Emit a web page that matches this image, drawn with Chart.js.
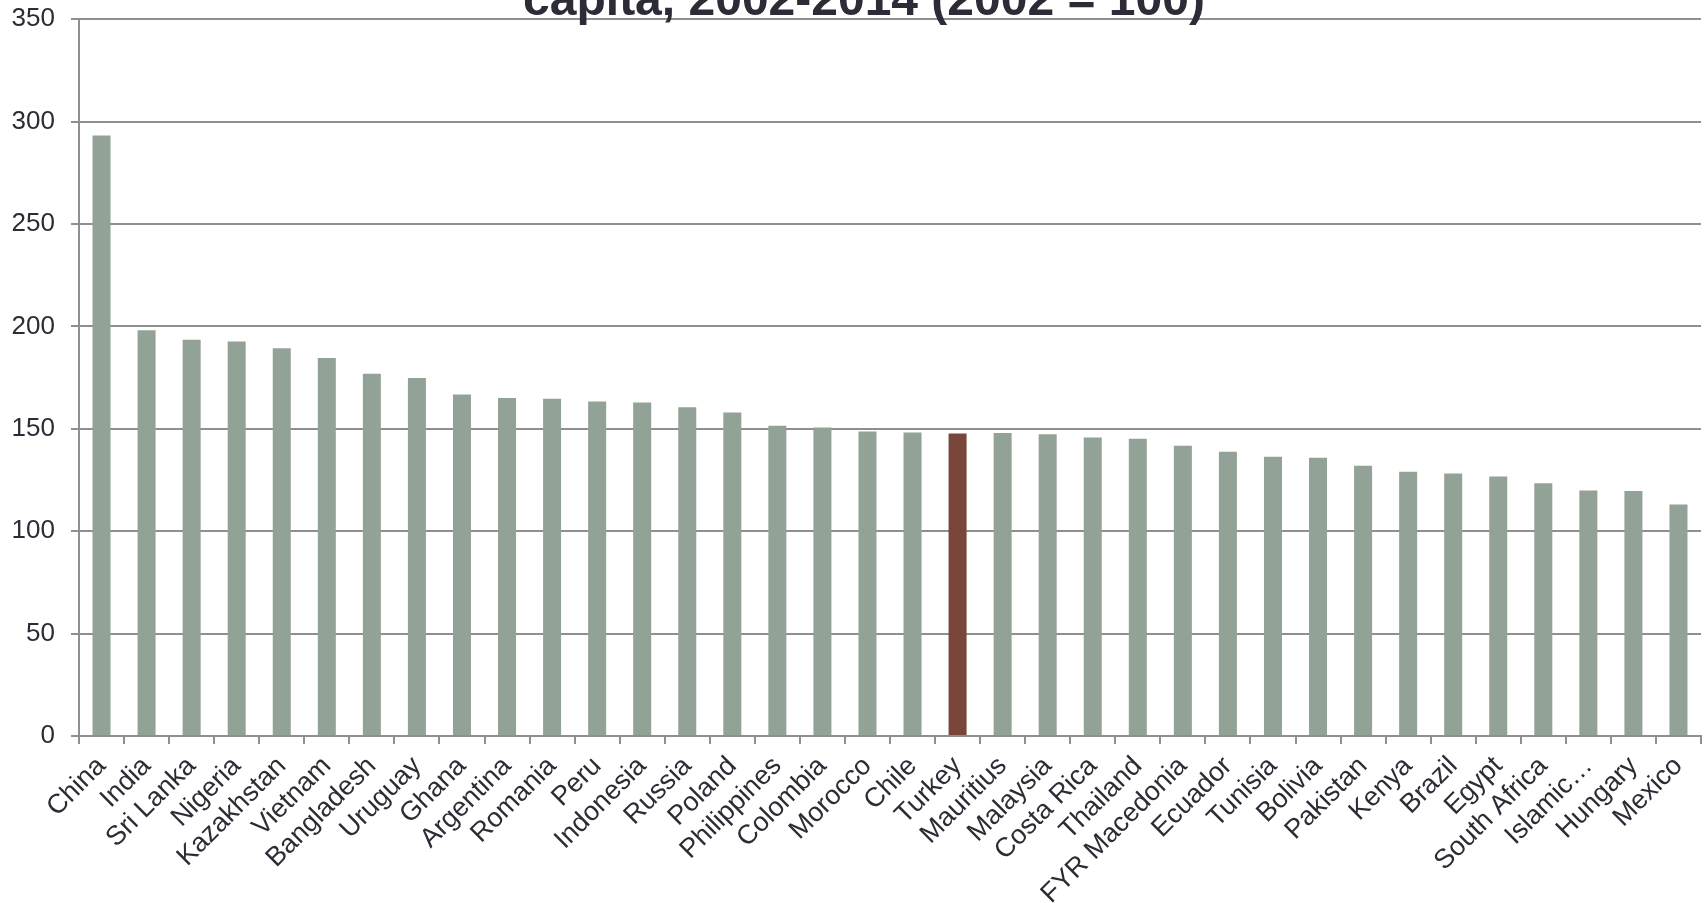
<!DOCTYPE html>
<html>
<head>
<meta charset="utf-8">
<script src="https://cdn.jsdelivr.net/npm/chart.js@4/dist/chart.umd.min.js"></script>
<style>
  html, body { margin: 0; padding: 0; background: #ffffff; }
  #wrap { width: 1704px; height: 903px; }
</style>
</head>
<body>
<div id="wrap"><canvas id="c" width="1704" height="903"></canvas></div>
<script>
const categories = ["China","India","Sri Lanka","Nigeria","Kazakhstan","Vietnam","Bangladesh","Uruguay","Ghana","Argentina","Romania","Peru","Indonesia","Russia","Poland","Philippines","Colombia","Morocco","Chile","Turkey","Mauritius","Malaysia","Costa Rica","Thailand","FYR Macedonia","Ecuador","Tunisia","Bolivia","Pakistan","Kenya","Brazil","Egypt","South Africa","Islamic…","Hungary","Mexico"];
const values = [293.2,198.1,193.5,192.6,189.4,184.6,176.9,174.8,166.8,165.0,164.7,163.4,162.9,160.5,158.0,151.5,150.6,148.7,148.2,147.7,148.0,147.4,145.8,145.1,141.7,138.8,136.4,135.9,132.0,129.0,128.2,126.7,123.4,119.9,119.6,113.0];
const yTicks = [0,50,100,150,200,250,300,350];
const highlighted = "Turkey";
const titleText = "capita, 2002-2014 (2002 = 100)";

const baseColor = "#93a297";
const highlightColor = "#79463c";
const textColor = "#2c2c37";
const gridColor = "#8f8f8f";

const titlePlugin = {
  id: "cutTitle",
  afterDraw(chart) {
    const ctx = chart.ctx;
    ctx.save();
    ctx.font = "bold 48px 'Liberation Sans', Arial, sans-serif";
    ctx.fillStyle = textColor;
    ctx.textAlign = "center";
    ctx.textBaseline = "alphabetic";
    ctx.fillText(titleText, 864, 15);
    ctx.restore();
  }
};

new Chart(document.getElementById("c"), {
  type: "bar",
  data: {
    labels: categories,
    datasets: [{
      data: values,
      backgroundColor: categories.map(c => c === highlighted ? highlightColor : baseColor),
      borderWidth: 0,
      barPercentage: 0.4,
      categoryPercentage: 1.0
    }]
  },
  options: {
    responsive: false,
    animation: false,
    devicePixelRatio: 1,
    layout: { padding: { top: 19, right: 3, left: 0, bottom: 0 } },
    plugins: { legend: { display: false }, tooltip: { enabled: false }, title: { display: false } },
    scales: {
      x: {
        afterFit: s => { s.height = 167; },
        grid: { display: true, drawOnChartArea: false, drawTicks: true, tickLength: 8, color: gridColor, lineWidth: 2, offset: true },
        border: { display: true, color: gridColor, width: 2 },
        ticks: {
          autoSkip: false, maxRotation: 45, minRotation: 45, padding: 13,
          color: textColor,
          font: { family: "'Liberation Sans', Arial, sans-serif", size: 27, lineHeight: 0.5 }
        }
      },
      y: {
        min: 0, max: 350,
        afterFit: s => { s.width = 79; },
        afterBuildTicks: s => { s.ticks = yTicks.map(v => ({ value: v })); },
        grid: { color: gridColor, lineWidth: 2, tickLength: 8, drawTicks: true },
        border: { display: true, color: gridColor, width: 2 },
        ticks: {
          padding: 16,
          color: textColor,
          font: { family: "'Liberation Sans', Arial, sans-serif", size: 26, lineHeight: 0.25 }
        }
      }
    }
  },
  plugins: [titlePlugin]
});
</script>
</body>
</html>
